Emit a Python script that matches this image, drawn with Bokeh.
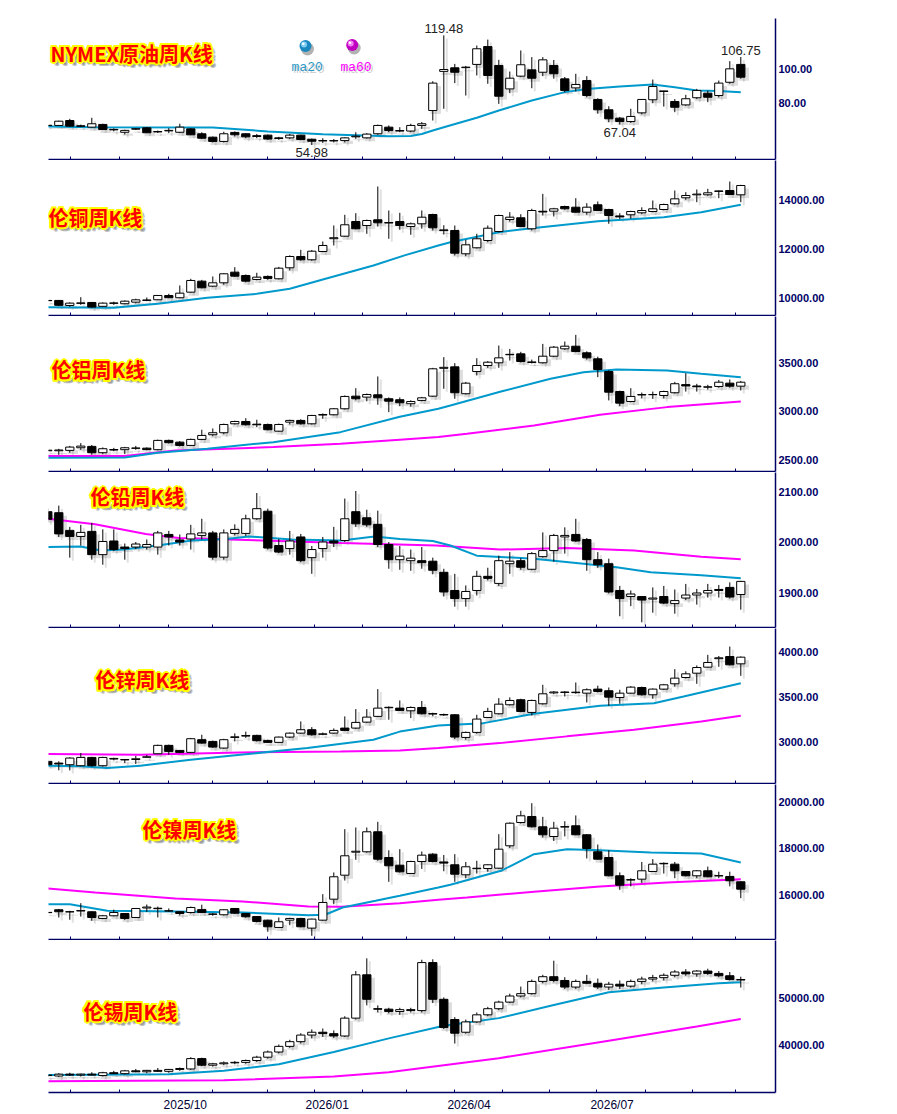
import numpy as np
from bokeh.plotting import figure
from bokeh.layouts import column
from bokeh.models import Range1d, FixedTicker, PrintfTickFormatter
from bokeh.embed import file_html
from bokeh.resources import INLINE
from bokeh.core.properties import value

# ---------------- data ----------------
weeks = list(range(-1, 63))
month_ticks = [1.05, 5.5, 10.0, 14.0, 19.0, 23.2, 27.6, 31.6, 36.0, 40.3, 44.6, 48.9, 53.3, 57.6, 61.5]
quarter_pos = [11.5, 24.4, 37.3, 50.3]
quarter_labels = ["2025/10", "2026/01", "2026/04", "2026/07"]

oil_open = [66.4, 66.5, 69.4, 66.3, 65.5, 67.1, 64.2, 62.5, 64.3, 65.1, 62.9, 63.3, 62.5, 64.5, 61.6, 59.6, 57.1, 62.4, 61.6, 60.5, 60.8, 59.2, 59.2, 60.8, 58.4, 57.6, 57.4, 57.6, 59.8, 59.2, 61.6, 65.5, 63.5, 63.2, 66.5, 75.3, 98.3, 100.4, 100.5, 102.4, 112.9, 101.8, 88.0, 95.5, 99.2, 97.8, 101.8, 93.9, 88.6, 92.9, 81.8, 75.7, 70.8, 68.8, 73.9, 81.6, 86.8, 80.6, 78.6, 82.8, 85.5, 84.1, 91.9, 102.4]
oil_high = [66.8, 69.3, 70.4, 67.0, 71.0, 67.5, 64.8, 64.0, 65.0, 65.5, 63.5, 64.9, 67.5, 64.8, 62.5, 60.0, 62.8, 63.0, 62.0, 61.5, 61.2, 59.8, 61.5, 61.0, 58.8, 59.0, 58.5, 59.6, 62.5, 62.0, 67.0, 66.5, 65.5, 67.5, 68.5, 92.5, 119.48, 102.7, 101.5, 113.5, 117.0, 105.1, 98.2, 110.6, 106.7, 106.7, 105.0, 95.0, 96.9, 95.5, 82.5, 77.8, 71.5, 76.3, 82.0, 93.5, 86.9, 82.0, 84.5, 88.0, 87.0, 92.9, 104.3, 106.75]
oil_low = [66.0, 66.3, 65.8, 65.5, 65.3, 63.8, 63.0, 61.2, 63.8, 62.0, 62.0, 62.0, 62.0, 60.8, 58.5, 56.5, 56.5, 60.0, 59.0, 59.0, 58.0, 58.0, 58.5, 57.8, 54.98, 56.2, 56.5, 56.5, 58.6, 58.8, 61.0, 62.5, 62.5, 62.5, 64.5, 69.4, 76.3, 91.4, 84.1, 95.9, 91.0, 79.2, 85.5, 94.9, 88.4, 95.5, 94.0, 86.0, 86.5, 83.1, 73.4, 68.4, 67.04, 68.0, 73.0, 79.6, 77.6, 74.3, 78.0, 82.0, 80.2, 83.0, 91.0, 94.0]
oil_close = [66.6, 69.0, 66.1, 66.0, 67.5, 64.1, 63.9, 63.6, 64.6, 62.2, 62.7, 63.6, 65.5, 61.0, 59.0, 57.1, 61.6, 61.0, 59.8, 60.0, 58.5, 58.8, 60.8, 58.2, 57.2, 57.4, 57.6, 59.2, 60.2, 61.4, 66.5, 63.5, 63.2, 66.5, 67.5, 91.4, 99.4, 97.8, 100.8, 111.6, 95.9, 83.7, 94.3, 102.2, 94.3, 105.1, 96.9, 87.1, 90.6, 84.1, 75.7, 70.4, 68.8, 71.8, 81.8, 89.4, 86.5, 77.2, 82.2, 87.1, 83.1, 91.4, 99.8, 94.9]
oil_ma20_x = [-1, 3, 14, 19, 24, 30, 32, 33, 34, 35, 38, 40, 43, 46, 48, 51, 54, 56, 58, 60, 62]
oil_ma20 = [65.9, 65.5, 65.3, 63.0, 61.3, 60.2, 60.3, 61.5, 63.5, 65.4, 71.0, 75.3, 81.2, 86.1, 88.0, 89.4, 90.6, 89.0, 87.1, 86.8, 86.1]
oil_ticks = [80, 100]
oil_marks = [(35, "high"), (23, "low"), (51, "low"), (62, "high")]

cu_open = [9870, 9880, 9675, 9760, 9797, 9640, 9760, 9745, 9810, 9880, 9908, 10080, 9990, 10218, 10667, 10463, 10600, 11034, 10899, 10736, 10860, 10764, 11213, 11674, 11540, 11878, 12400, 12503, 13102, 12939, 13172, 13060, 13102, 12898, 13008, 13388, 12760, 12735, 11784, 12029, 12327, 12694, 13184, 13253, 12805, 13520, 13523, 13714, 13686, 13482, 13784, 13592, 13330, 13376, 13457, 13510, 13592, 13824, 14069, 14190, 14191, 14330, 14367, 14191]
cu_high = [9900, 9900, 9800, 10014, 9820, 9800, 9830, 9880, 9950, 10000, 10100, 10150, 10491, 10764, 10720, 10858, 11000, 11238, 10940, 11009, 10900, 11250, 11720, 11947, 11940, 12286, 12939, 13376, 13441, 13180, 14530, 13551, 13457, 13060, 13551, 13420, 12950, 12939, 12356, 12600, 12939, 13380, 13482, 13400, 13620, 14231, 13660, 13750, 14053, 13849, 13918, 13620, 13440, 13540, 13680, 13959, 13830, 14367, 14298, 14408, 14435, 14367, 14734, 14600]
cu_low = [9850, 9650, 9620, 9700, 9580, 9620, 9700, 9720, 9760, 9850, 9900, 9970, 9970, 10200, 10370, 10422, 10520, 10840, 10620, 10700, 10720, 10740, 11103, 11500, 11500, 11850, 12123, 12480, 12780, 12600, 12898, 12397, 12764, 12560, 12810, 12735, 12572, 11715, 11687, 12000, 12258, 12650, 13102, 12870, 12735, 13350, 13306, 13580, 13460, 13376, 13530, 13008, 13200, 13212, 13400, 13480, 13560, 13784, 13987, 13890, 14150, 14053, 14180, 13890]
cu_close = [9880, 9680, 9770, 9780, 9610, 9770, 9780, 9850, 9905, 9900, 10083, 9990, 10177, 10695, 10397, 10600, 10968, 10871, 10667, 10830, 10780, 11197, 11674, 11540, 11890, 12123, 12440, 12968, 12805, 13143, 13049, 13040, 12939, 13008, 13278, 12845, 12730, 11809, 12151, 12397, 12829, 13347, 13278, 12898, 13551, 13490, 13620, 13620, 13482, 13686, 13551, 13347, 13290, 13510, 13551, 13620, 13796, 14028, 14163, 14220, 14273, 14350, 14204, 14571]
cu_ma20_x = [-1, 5, 9, 13.5, 18, 21, 24, 28.6, 31.5, 34.5, 35.6, 40, 43, 49, 55, 58.4, 62]
cu_ma20 = [9600, 9580, 9745, 9990, 10150, 10356, 10736, 11307, 11730, 12123, 12258, 12666, 12829, 13114, 13278, 13482, 13784]
cu_ticks = [10000, 12000, 14000]

al_open = [2590, 2590, 2594, 2621, 2635, 2570, 2597, 2601, 2615, 2617, 2601, 2697, 2679, 2645, 2707, 2755, 2776, 2868, 2892, 2864, 2861, 2792, 2885, 2903, 2868, 2958, 2961, 3023, 3153, 3143, 3167, 3126, 3116, 3075, 3109, 3153, 3440, 3455, 3178, 3407, 3469, 3497, 3580, 3589, 3500, 3497, 3565, 3641, 3668, 3600, 3538, 3407, 3201, 3098, 3165, 3170, 3160, 3188, 3272, 3258, 3245, 3253, 3287, 3256]
al_high = [2600, 2610, 2640, 2669, 2650, 2625, 2620, 2630, 2640, 2625, 2705, 2705, 2690, 2715, 2807, 2820, 2870, 2900, 2926, 2910, 2870, 2870, 2910, 2915, 2960, 2975, 3030, 3160, 3235, 3180, 3356, 3140, 3140, 3110, 3145, 3445, 3555, 3493, 3300, 3544, 3515, 3675, 3640, 3610, 3530, 3692, 3670, 3716, 3785, 3615, 3560, 3420, 3210, 3235, 3190, 3200, 3210, 3300, 3390, 3280, 3270, 3320, 3325, 3310]
al_low = [2585, 2549, 2570, 2600, 2549, 2555, 2585, 2555, 2600, 2595, 2595, 2665, 2635, 2640, 2700, 2740, 2760, 2860, 2850, 2835, 2800, 2785, 2861, 2860, 2860, 2920, 2955, 3015, 3110, 3100, 3064, 2988, 3050, 3045, 3100, 3145, 3229, 3126, 3170, 3366, 3445, 3445, 3520, 3500, 3490, 3490, 3555, 3630, 3605, 3530, 3349, 3109, 3050, 3090, 3130, 3125, 3130, 3180, 3200, 3200, 3220, 3240, 3240, 3212]
al_close = [2596, 2598, 2628, 2638, 2570, 2611, 2603, 2621, 2619, 2601, 2697, 2673, 2645, 2707, 2748, 2776, 2861, 2892, 2858, 2858, 2807, 2861, 2903, 2868, 2954, 2964, 3023, 3150, 3126, 3170, 3136, 3101, 3085, 3098, 3136, 3435, 3450, 3188, 3287, 3469, 3503, 3548, 3584, 3510, 3506, 3565, 3658, 3668, 3613, 3548, 3428, 3194, 3081, 3150, 3170, 3168, 3201, 3281, 3258, 3250, 3250, 3297, 3256, 3297]
al_ma20_x = [-1, 6, 9, 13.5, 19.5, 25.6, 31, 34.5, 35.6, 40.2, 44.7, 47.7, 50.7, 55.3, 58.4, 62]
al_ma20 = [2518, 2520, 2570, 2611, 2679, 2782, 2940, 3023, 3057, 3201, 3332, 3400, 3428, 3418, 3384, 3349]
al_ma60_x = [-1, 6, 10.6, 19.5, 25.6, 31, 34.5, 37.1, 43.2, 49.2, 55.3, 62]
al_ma60 = [2535, 2535, 2594, 2628, 2663, 2704, 2731, 2766, 2851, 2961, 3040, 3098]
al_ticks = [2500, 3000, 3500]

pb_open = [2060, 2058, 2023, 2011, 2021, 1975, 2002, 1990, 1990, 1990, 1990, 2015, 2004, 2006, 2013, 2018, 1970, 2017, 2017, 2046, 2061, 1993, 1987, 2010, 1969, 1987, 2002, 2003, 2060, 2048, 2035, 1995, 1965, 1963, 1963, 1962, 1940, 1904, 1888, 1904, 1932, 1918, 1957, 1963, 1946, 1971, 1983, 2010, 2015, 2005, 1965, 1957, 1904, 1892, 1892, 1887, 1892, 1878, 1889, 1895, 1899, 1906, 1910, 1896]
pb_high = [2066, 2072, 2030, 2034, 2038, 2025, 2025, 1997, 2000, 2005, 2022, 2022, 2015, 2034, 2046, 2022, 2025, 2035, 2054, 2097, 2066, 2006, 2022, 2016, 1992, 2010, 2030, 2086, 2101, 2064, 2062, 2000, 1992, 1985, 1990, 1969, 1947, 1937, 1914, 1943, 1949, 1973, 1980, 1968, 1980, 2019, 2016, 2029, 2046, 2008, 1980, 1967, 1913, 1904, 1893, 1910, 1913, 1906, 1917, 1907, 1917, 1915, 1920, 1923]
pb_low = [2040, 2010, 1969, 1993, 1965, 1955, 1982, 1965, 1986, 1985, 1975, 1993, 1993, 1985, 2005, 1965, 1965, 2013, 2012, 2044, 1985, 1978, 1975, 1960, 1937, 1969, 1990, 2000, 2030, 2030, 1990, 1947, 1945, 1943, 1947, 1936, 1892, 1872, 1872, 1894, 1924, 1913, 1937, 1945, 1944, 1969, 1961, 1977, 2000, 1943, 1949, 1898, 1853, 1873, 1841, 1860, 1877, 1858, 1885, 1876, 1890, 1890, 1888, 1866]
pb_close = [2045, 2016, 2011, 2019, 1975, 2001, 1985, 1987, 1996, 1995, 2018, 2010, 2000, 2016, 2018, 1970, 2018, 2025, 2046, 2066, 1988, 1980, 2002, 1963, 1985, 2000, 1998, 2046, 2036, 2034, 1995, 1965, 1972, 1968, 1959, 1944, 1901, 1888, 1902, 1932, 1928, 1963, 1962, 1950, 1977, 1983, 2013, 2013, 2002, 1965, 1955, 1901, 1888, 1897, 1885, 1889, 1879, 1884, 1895, 1899, 1904, 1904, 1891, 1922]
pb_ma20_x = [-1, 2, 3.8, 5.9, 9, 12.1, 15.2, 17.3, 21.2, 25.7, 28.7, 31, 34, 35.6, 38, 43.2, 47.7, 50.7, 53.8, 58.4, 62]
pb_ma20 = [1990, 1991, 1983, 1985, 1993, 2003, 2006, 2011, 2005, 2003, 2011, 2006, 2002, 1993, 1973, 1967, 1957, 1950, 1940, 1934, 1928]
pb_ma60_x = [-1, 3.3, 7.9, 10.9, 15.5, 20, 25.7, 34.3, 40.1, 46.2, 52.3, 58.4, 62]
pb_ma60 = [2046, 2035, 2016, 2008, 2005, 2002, 1998, 1993, 1985, 1988, 1983, 1971, 1966]
pb_ticks = [1900, 2000, 2100]

zn_open = [2779, 2760, 2742, 2731, 2823, 2731, 2805, 2800, 2800, 2825, 2864, 2957, 2901, 2879, 3020, 3001, 2927, 3045, 3060, 3068, 3012, 2990, 3049, 3093, 3131, 3080, 3093, 3149, 3149, 3215, 3279, 3375, 3371, 3341, 3378, 3310, 3300, 3297, 3045, 3101, 3267, 3308, 3408, 3464, 3323, 3419, 3540, 3545, 3548, 3537, 3582, 3564, 3489, 3537, 3600, 3519, 3582, 3641, 3711, 3759, 3826, 3920, 3944, 3863]
zn_high = [2790, 2780, 2825, 2871, 2830, 2830, 2820, 2805, 2840, 2850, 2965, 2965, 2905, 3040, 3075, 3010, 3030, 3090, 3110, 3075, 3020, 3055, 3100, 3223, 3160, 3100, 3145, 3279, 3360, 3360, 3582, 3390, 3456, 3390, 3450, 3320, 3310, 3305, 3110, 3297, 3375, 3482, 3490, 3475, 3465, 3630, 3560, 3560, 3656, 3590, 3620, 3600, 3575, 3615, 3610, 3590, 3640, 3804, 3780, 3845, 3963, 3950, 4055, 3945]
zn_low = [2730, 2680, 2679, 2725, 2720, 2720, 2790, 2760, 2750, 2820, 2860, 2853, 2870, 2870, 2975, 2930, 2920, 3001, 3040, 3000, 2985, 2985, 3040, 3085, 3065, 3070, 3085, 3115, 3140, 3205, 3270, 3242, 3340, 3260, 3300, 3280, 3285, 3027, 3020, 3086, 3260, 3300, 3400, 3325, 3290, 3410, 3525, 3500, 3530, 3434, 3545, 3397, 3420, 3530, 3510, 3475, 3575, 3610, 3700, 3641, 3820, 3830, 3845, 3730]
zn_close = [2742, 2750, 2816, 2823, 2731, 2823, 2812, 2795, 2808, 2830, 2957, 2890, 2879, 3031, 2982, 2938, 3020, 3052, 3066, 3009, 2990, 3049, 3093, 3131, 3075, 3085, 3123, 3123, 3212, 3271, 3371, 3380, 3345, 3378, 3308, 3305, 3295, 3049, 3101, 3249, 3334, 3415, 3456, 3334, 3456, 3530, 3550, 3550, 3543, 3575, 3556, 3493, 3537, 3604, 3519, 3582, 3630, 3704, 3752, 3822, 3878, 3930, 3852, 3937]
zn_ma20_x = [-1, 2, 4.4, 7.4, 12, 16.5, 22.6, 28.6, 31, 34.5, 38.6, 43.2, 49.2, 54.1, 56.8, 62]
zn_ma20 = [2731, 2724, 2705, 2731, 2798, 2853, 2927, 3020, 3110, 3179, 3204, 3308, 3397, 3426, 3501, 3648]
zn_ma60_x = [-1, 7.4, 16.5, 25.6, 31, 34.5, 40.1, 46.2, 52.3, 58.4, 62]
zn_ma60 = [2860, 2853, 2879, 2890, 2901, 2927, 2982, 3057, 3131, 3223, 3286]
zn_ticks = [3000, 3500, 4000]

ni_open = [15220, 15343, 15260, 15290, 15257, 14970, 15085, 15184, 15012, 15420, 15390, 15290, 15257, 15227, 15350, 15160, 15128, 15399, 15184, 15055, 14896, 14582, 14896, 14970, 14554, 14896, 15799, 16831, 17820, 17837, 18697, 17592, 17261, 16904, 17420, 17735, 17400, 17278, 16848, 17110, 17119, 17132, 18095, 19097, 19355, 18912, 18495, 18900, 18955, 18568, 17837, 17592, 16805, 16640, 16659, 16990, 17340, 17304, 16990, 16805, 17020, 16810, 16775, 16547]
ni_high = [15240, 15380, 15300, 15627, 15280, 15120, 15350, 15200, 15420, 15570, 15480, 15400, 15290, 15480, 15560, 15200, 15360, 15420, 15200, 15070, 14920, 15012, 15000, 15000, 14960, 16014, 16947, 18809, 18882, 18882, 19127, 17900, 17950, 17450, 17850, 17780, 17700, 17735, 17400, 17450, 17300, 18594, 19100, 19600, 19927, 19340, 19127, 19150, 19400, 18600, 18150, 17900, 16950, 16700, 17400, 17520, 17380, 17400, 17010, 17050, 17200, 16980, 16980, 16560]
ni_low = [15200, 15012, 14913, 15050, 14870, 14940, 15060, 14900, 14990, 15250, 15012, 15250, 15100, 15180, 15200, 15085, 15100, 15170, 15000, 14800, 14397, 14560, 14680, 14590, 14225, 14870, 15584, 16600, 17493, 17800, 17450, 16547, 16940, 16880, 17100, 17380, 17000, 16547, 16700, 16900, 16980, 17100, 18000, 19050, 18880, 18450, 18300, 18500, 18550, 17550, 17500, 16780, 16200, 16350, 16500, 16970, 16900, 16700, 16780, 16700, 16740, 16700, 16350, 15842]
ni_close = [15230, 15257, 15250, 15310, 15012, 15085, 15227, 14970, 15399, 15460, 15410, 15300, 15184, 15442, 15227, 15150, 15343, 15197, 15041, 14840, 14612, 14827, 14970, 14612, 14941, 15657, 16762, 17665, 17860, 18697, 17519, 17235, 16977, 17420, 17692, 17420, 17350, 16874, 17192, 17130, 17278, 17949, 19067, 19385, 18912, 18568, 18852, 18920, 18568, 17979, 17519, 16805, 16401, 16620, 17020, 17304, 17320, 17020, 16805, 17020, 16762, 16800, 16590, 16229]
ni_ma20_x = [-1, 1, 4.4, 10.6, 16.7, 22.7, 24.2, 25.8, 28.8, 31, 34.5, 35.6, 40.2, 43.2, 46.2, 49.2, 53.8, 58.4, 62]
ni_ma20 = [15584, 15584, 15300, 15270, 15227, 15111, 15130, 15442, 15730, 15945, 16302, 16420, 17020, 17735, 17949, 17906, 17807, 17764, 17377]
ni_ma60_x = [-1, 3.3, 10.6, 16.7, 22.7, 25.7, 28.8, 31, 34.5, 37.1, 43.2, 49.2, 55.3, 62]
ni_ma60 = [16259, 16087, 15829, 15700, 15485, 15470, 15560, 15627, 15772, 15872, 16117, 16345, 16517, 16659]
ni_ticks = [16000, 18000, 20000]

sn_open = [33600, 33500, 33900, 33700, 33900, 33600, 34200, 34000, 34600, 34400, 34700, 34500, 34900, 35000, 37200, 35800, 36100, 36300, 36400, 36800, 37500, 38600, 39800, 40800, 42200, 42800, 42500, 42000, 45800, 55000, 47800, 47700, 47200, 47600, 47400, 57600, 49800, 45500, 42800, 45000, 46500, 47800, 49200, 50500, 51000, 53600, 54600, 53800, 52400, 53600, 53200, 52400, 53000, 52600, 53600, 54100, 54400, 54900, 55600, 55200, 55800, 55300, 54800, 54000]
sn_high = [33800, 34100, 34200, 34000, 34300, 34400, 34600, 34800, 35000, 34800, 35200, 35000, 35300, 37500, 37400, 36300, 36600, 36700, 37000, 37800, 38900, 40200, 41200, 42600, 43400, 43600, 43200, 46200, 55800, 58500, 48500, 48000, 48000, 48000, 58200, 58300, 50200, 46000, 45500, 47000, 48200, 49500, 51000, 52500, 54000, 55000, 58000, 54500, 54000, 55000, 54200, 53500, 53800, 54000, 54600, 55000, 55300, 56000, 56200, 56000, 56300, 55800, 55600, 54600]
sn_low = [33300, 33300, 33500, 33400, 33600, 33400, 33900, 33800, 34300, 34100, 34400, 34200, 34600, 34800, 35600, 35500, 35800, 36000, 36100, 36500, 37200, 38300, 39500, 40400, 41500, 41800, 41600, 41800, 45500, 48500, 47000, 46800, 46500, 47000, 47000, 49000, 43500, 40400, 42500, 44800, 46200, 47500, 49000, 50200, 50800, 53200, 53400, 52000, 52000, 53000, 52000, 51800, 52000, 52300, 53000, 53600, 53800, 54500, 54800, 54600, 55000, 54500, 53800, 52300]
sn_close = [33700, 33900, 33700, 33900, 33700, 34200, 34000, 34600, 34400, 34700, 34500, 34900, 35100, 37200, 35800, 36100, 36300, 36400, 36800, 37500, 38600, 39800, 40800, 42200, 42800, 42500, 42000, 45800, 55000, 49800, 47700, 47200, 47600, 47400, 57600, 49800, 43800, 42600, 45000, 46500, 47800, 49200, 50500, 51000, 53600, 54600, 53800, 52400, 53600, 53200, 52400, 53000, 52600, 53600, 54100, 54400, 54900, 55600, 55200, 55800, 55300, 54800, 54000, 53900]
sn_ma20_x = [-1, 10, 15, 20, 25, 30, 35, 40, 45, 50, 55, 60, 62]
sn_ma20 = [33700, 33900, 34600, 36000, 38600, 41500, 44200, 45800, 48600, 51300, 52300, 53200, 53400]
sn_ma60_x = [-1, 15, 25, 30, 40, 50, 58, 62]
sn_ma60 = [32400, 32600, 33400, 34300, 37300, 41000, 44000, 45600]
sn_ticks = [40000, 50000]

# ---------------- styling / layout ----------------
NAVY = "#000066"
BLUE = "#0099CC"
MAG = "#FF00FF"
X_ORIGIN, X_STEP = 58.3, 11.0
FRAME_L, FRAME_R = 48, 775
X0 = (FRAME_L - X_ORIGIN) / X_STEP
X1 = (FRAME_R - X_ORIGIN) / X_STEP
W = 897

panels = [
    dict(title="NYMEX原油周K线", o=oil_open, h=oil_high, l=oil_low, c=oil_close,
         ma20=(oil_ma20_x, oil_ma20), ma60=None, ticks=oil_ticks,
         cal=((100, 68), (80, 102)), page_top=0, T=18, B=159, height=160, tpos=(50, 52.5)),
    dict(title="伦铜周K线", o=cu_open, h=cu_high, l=cu_low, c=cu_close,
         ma20=(cu_ma20_x, cu_ma20), ma60=None, ticks=cu_ticks,
         cal=((14000, 199), (10000, 297)), page_top=160, T=160, B=315, height=156, tpos=(48, 216.7)),
    dict(title="伦铝周K线", o=al_open, h=al_high, l=al_low, c=al_close,
         ma20=(al_ma20_x, al_ma20), ma60=(al_ma60_x, al_ma60), ticks=al_ticks,
         cal=((3500, 362), (2500, 459)), page_top=316, T=316, B=471, height=156, tpos=(51, 369)),
    dict(title="伦铅周K线", o=pb_open, h=pb_high, l=pb_low, c=pb_close,
         ma20=(pb_ma20_x, pb_ma20), ma60=(pb_ma60_x, pb_ma60), ticks=pb_ticks,
         cal=((2100, 491), (1900, 592)), page_top=472, T=472, B=627, height=156, tpos=(90, 496)),
    dict(title="伦锌周K线", o=zn_open, h=zn_high, l=zn_low, c=zn_close,
         ma20=(zn_ma20_x, zn_ma20), ma60=(zn_ma60_x, zn_ma60), ticks=zn_ticks,
         cal=((4000, 651), (3000, 741)), page_top=628, T=628, B=783, height=156, tpos=(95, 679)),
    dict(title="伦镍周K线", o=ni_open, h=ni_high, l=ni_low, c=ni_close,
         ma20=(ni_ma20_x, ni_ma20), ma60=(ni_ma60_x, ni_ma60), ticks=ni_ticks,
         cal=((20000, 801), (16000, 894)), page_top=784, T=784, B=939, height=156, tpos=(142, 828.7)),
    dict(title="伦锡周K线", o=sn_open, h=sn_high, l=sn_low, c=sn_close,
         ma20=(sn_ma20_x, sn_ma20), ma60=(sn_ma60_x, sn_ma60), ticks=sn_ticks,
         cal=((50000, 999), (40000, 1047)), page_top=940, T=940, B=1095, height=174, tpos=(83, 1012)),
]

CJK = "Noto Sans CJK SC"


def build(spec, last):
    (v1, p1), (v2, p2) = spec["cal"]
    per_px = (v1 - v2) / (p2 - p1)
    T, B = spec["T"], spec["B"]
    y_top = v1 + (p1 - T) * per_px
    y_bot = v2 - (B - p2) * per_px

    def conv(px, py):
        return (px - X_ORIGIN) / X_STEP, y_top - (py - T) * per_px

    p = figure(width=W, height=spec["height"], x_range=Range1d(X0, X1), y_range=Range1d(y_bot, y_top),
               output_backend="svg", toolbar_location=None, y_axis_location="right",
               min_border_left=FRAME_L, min_border_right=W - FRAME_R,
               min_border_top=T - spec["page_top"],
               min_border_bottom=spec["page_top"] + spec["height"] - B)
    p.outline_line_color = None
    p.xgrid.visible = False
    p.ygrid.visible = False
    p.background_fill_color = "white"
    p.border_fill_color = "white"

    # y axis on the right
    ya = p.yaxis[0]
    ya.ticker = FixedTicker(ticks=spec["ticks"])
    ya.formatter = PrintfTickFormatter(format="%.2f")
    ya.axis_line_color = NAVY
    ya.axis_line_width = 1.5
    ya.major_tick_in = 0
    ya.major_tick_out = 0
    ya.minor_tick_in = 0
    ya.minor_tick_out = 0
    ya.major_label_standoff = 3
    ya.major_label_text_font = "Liberation Sans"
    ya.major_label_text_font_style = "bold"
    ya.major_label_text_font_size = "11px"
    ya.major_label_text_color = NAVY

    # x axis at bottom
    xa = p.xaxis[0]
    xa.axis_line_color = NAVY
    xa.axis_line_width = 1.5
    xa.major_tick_in = 0
    xa.major_tick_out = 0
    xa.minor_tick_in = 3
    xa.minor_tick_out = 0
    xa.minor_tick_line_color = NAVY
    if last:
        xa.ticker = FixedTicker(ticks=quarter_pos, minor_ticks=month_ticks)
        xa.major_label_overrides = {pos: lab for pos, lab in zip(quarter_pos, quarter_labels)}
        xa.major_label_standoff = 5
        xa.major_label_text_font = "Liberation Sans"
        xa.major_label_text_font_size = "12px"
        xa.major_label_text_color = "#000033"
    else:
        xa.ticker = FixedTicker(ticks=[], minor_ticks=month_ticks)
        xa.major_label_standoff = 0

    # candles
    o = np.asarray(spec["o"], float)
    h = np.asarray(spec["h"], float)
    l = np.asarray(spec["l"], float)
    c = np.asarray(spec["c"], float)
    x = np.asarray(weeks, float)
    top = np.maximum(o, c)
    bot = np.minimum(o, c)
    fill = np.where(c >= o, "white", "black")
    sh = 3 * per_px
    # soft drop shadow
    p.vbar(x=x + 0.27, width=0.95, top=top - sh, bottom=bot - sh - 0.5 * per_px,
           fill_color="#000000", fill_alpha=0.13, line_color=None)
    p.segment(x0=x + 0.27, y0=h - sh, x1=x + 0.27, y1=l - sh, line_color="#000000",
              line_alpha=0.12, line_width=2)

    # moving averages
    if spec["ma60"] is not None:
        p.line(spec["ma60"][0], spec["ma60"][1], line_color=MAG, line_width=2)
    p.line(spec["ma20"][0], spec["ma20"][1], line_color=BLUE, line_width=2)

    p.segment(x0=x, y0=h, x1=x, y1=l, line_color="black", line_width=1)
    p.vbar(x=x, width=0.75, top=top, bottom=bot, fill_color=fill, line_color="black", line_width=1)

    # title with outline
    tx, ty = conv(*spec["tpos"])
    common = dict(text_font=value(CJK), text_font_style="bold", text_font_size="20px",
                  text_align="left", text_baseline="middle")
    sdx = [2, 3, 4, 3, 4]
    sdy = [3, 2, 3, 4, 4]
    p.text(x=[tx] * 5, y=[ty] * 5, text=[spec["title"]] * 5, x_offset=sdx, y_offset=sdy,
           text_color="#707070", text_alpha=0.25, **common)
    odx = [-2, 2, 0, 0, -1.5, 1.5, -1.5, 1.5]
    ody = [0, 0, -2, 2, -1.5, 1.5, 1.5, -1.5]
    p.text(x=[tx] * 8, y=[ty] * 8, text=[spec["title"]] * 8, x_offset=odx, y_offset=ody,
           text_color="#FFFF00", **common)
    p.text(x=[tx], y=[ty], text=[spec["title"]], text_color="#FF0000", **common)
    return p, conv, per_px


figs = []
for i, spec in enumerate(panels):
    p, conv, per_px = build(spec, i == len(panels) - 1)
    if i == 0:
        # legend balls
        for (bx, by, base, hi, lab, lx, lcol) in [
            (305, 45.5, "#1B88C0", "#9FE0FF", "ma20", 306.7, "#2E9AC8"),
            (351.7, 44.5, "#C000C0", "#FF9CFF", "ma60", 355.5, "#FF00FF"),
        ]:
            cx, cy = conv(bx, by)
            sx, sy = conv(bx + 2, by + 3)
            p.scatter([sx], [sy], marker="circle", size=13, fill_color="#000000", fill_alpha=0.3, line_color=None)
            p.scatter([cx], [cy], marker="circle", size=12, fill_color=base, line_color=None)
            hx, hy = conv(bx - 1.5, by - 1.5)
            p.scatter([hx], [hy], marker="circle", size=6, fill_color=hi, fill_alpha=0.8, line_color=None)
            wx, wy = conv(bx - 2.2, by - 2.2)
            p.scatter([wx], [wy], marker="circle", size=2.5, fill_color="white", line_color=None)
            tx, ty = conv(lx, 67.3)
            p.text(x=[tx], y=[ty], text=[lab], x_offset=[2], y_offset=[2], text_color="#808080", text_alpha=0.4,
                   text_font=value("Liberation Mono"), text_font_size="13px", text_align="center", text_baseline="middle")
            p.text(x=[tx], y=[ty], text=[lab], text_color=lcol, text_font=value("Liberation Mono"),
                   text_font_size="13px", text_align="center", text_baseline="middle")
        # extreme value marks
        for k, kind in oil_marks:
            idx = k + 1
            if kind == "high":
                v = oil_high[idx]
                p.text(x=[k], y=[v], text=[f"{v:.2f}"], y_offset=[-2], text_color="#222222",
                       text_font=value("Liberation Sans"), text_font_size="13px",
                       text_align="center", text_baseline="bottom")
            else:
                v = oil_low[idx]
                p.text(x=[k], y=[v], text=[f"{v:.2f}"], y_offset=[3], text_color="#222222",
                       text_font=value("Liberation Sans"), text_font_size="13px",
                       text_align="center", text_baseline="top")
    figs.append(p)

layout = column(*figs, spacing=0)
open("out.html", "w").write(file_html(layout, INLINE))
